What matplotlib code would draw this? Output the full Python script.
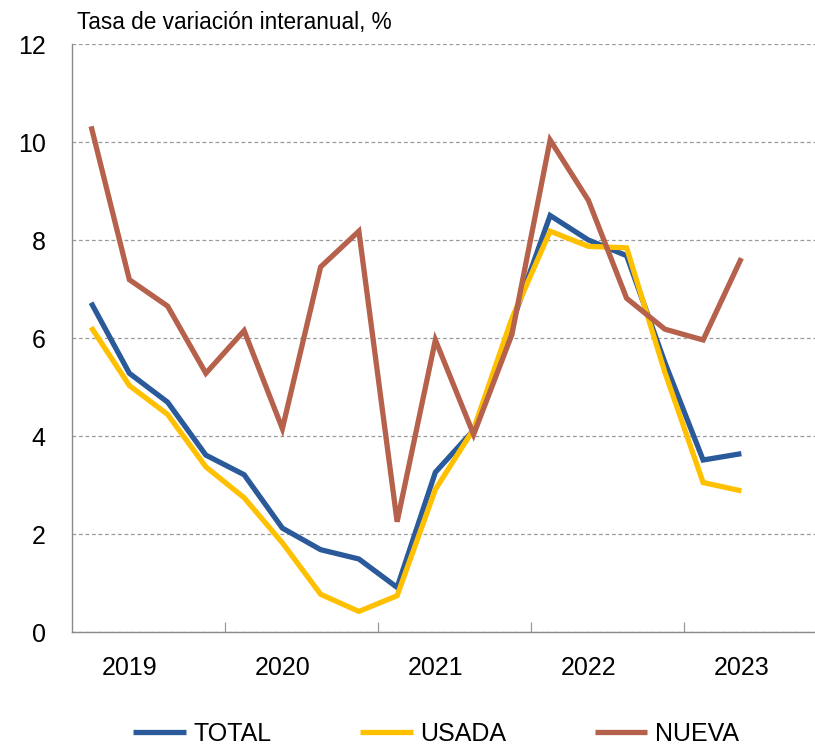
import numpy as np
import matplotlib

matplotlib.use("Agg")
import matplotlib.pyplot as plt
from matplotlib.ticker import FixedLocator, NullFormatter

plt.rcParams["font.family"] = ["Liberation Sans", "DejaVu Sans"]

# quarterly year-on-year growth, 2019 Q1 .. 2023 Q2
years = ["2019", "2020", "2021", "2022", "2023"]
total = [6.72, 5.28, 4.69, 3.61, 3.21, 2.12, 1.68, 1.49, 0.91,
         3.26, 4.12, 6.30, 8.50, 8.00, 7.68, 5.50, 3.51, 3.64]
usada = [6.22, 5.03, 4.44, 3.37, 2.74, 1.82, 0.77, 0.42, 0.74,
         2.91, 4.14, 6.40, 8.18, 7.87, 7.84, 5.30, 3.05, 2.88]
nueva = [10.32, 7.19, 6.65, 5.28, 6.15, 4.15, 7.45, 8.18, 2.25,
         5.96, 4.03, 6.07, 10.04, 8.81, 6.81, 6.18, 5.96, 7.63]

series = [("TOTAL", total, "#2B5A9B"),
          ("USADA", usada, "#FFC000"),
          ("NUEVA", nueva, "#B5614B")]

W, H = 815, 746
fig = plt.figure(figsize=(W / 100, H / 100), dpi=100)
ax = fig.add_axes([72 / W, 1 - 632 / H, (W - 72) / W, (632 - 44) / H])

x = np.arange(len(total)) + 0.5
for name, vals, col in series:
    ax.plot(x, vals, color=col, lw=3.8, label=name, solid_joinstyle="miter",
            solid_capstyle="butt")

ax.set_ylim(0, 12)
ax.set_xlim(0, (W - 72) / 38.25)
ax.set_yticks(range(0, 13, 2))
ax.yaxis.grid(True, ls=(0, (3, 2.2)), color="#9a9a9a", lw=0.9)
ax.set_axisbelow(True)
ax.tick_params(axis="y", length=0, pad=19, labelsize=18)

# year boundaries as inward ticks, labels offset into each year
ax.xaxis.set_major_locator(FixedLocator([4 * i for i in range(1, len(years))]))
ax.xaxis.set_major_formatter(NullFormatter())
ax.xaxis.set_minor_locator(FixedLocator([4 * i + 1.5 for i in range(len(years))]))
ax.set_xticklabels(years, minor=True)
ax.tick_params(axis="x", which="major", direction="in", length=7,
               color="#9a9a9a", width=0.9)
ax.tick_params(axis="x", which="minor", length=0, pad=17, labelsize=18)

for s in ["top", "right"]:
    ax.spines[s].set_visible(False)
for s in ["left", "bottom"]:
    ax.spines[s].set_color("#8a8a8a")
    ax.spines[s].set_linewidth(1.0)

fig.text(77 / W, 1 - 22 / H, "Tasa de variación interanual, %", fontsize=16.3,
         va="center", ha="left")

fig.legend(loc="center", bbox_to_anchor=(436 / W, 1 - 734 / H), ncol=3,
           frameon=False, fontsize=18, handlelength=2.1, handletextpad=0.3,
           columnspacing=3.55, borderpad=0)

fig.savefig("out.png", dpi=100)
